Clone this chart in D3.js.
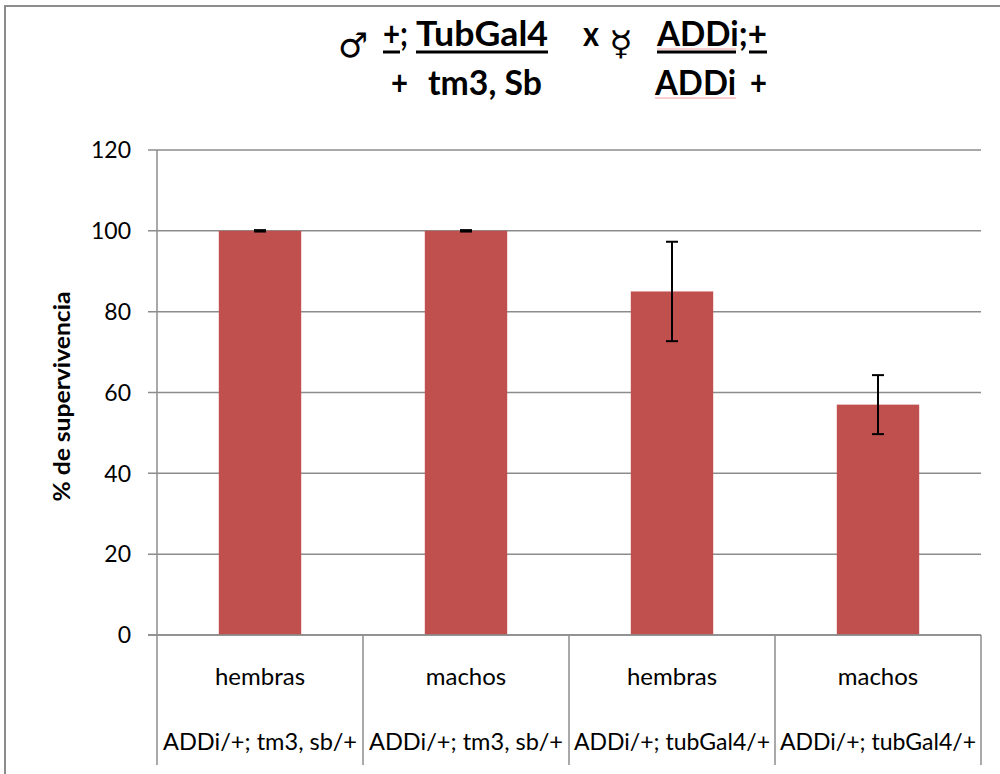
<!DOCTYPE html>
<html>
<head>
<meta charset="utf-8">
<script src="https://cdn.jsdelivr.net/npm/d3@7"></script>
<style>
  body { margin: 0; background: #fff; }
  svg { display: block; font-family: Lato, "Noto Sans", sans-serif; }
</style>
</head>
<body>
<div id="chart"></div>
<script>
const sexes = ['hembras', 'machos', 'hembras', 'machos'];
const genotypes = ['ADDi/+; tm3, sb/+', 'ADDi/+; tm3, sb/+', 'ADDi/+; tubGal4/+', 'ADDi/+; tubGal4/+'];
const survival = [100, 100, 85, 57];
const errors = [0, 0, 12.3, 7.3];
const yTicks = [0, 20, 40, 60, 80, 100, 120];

const width = 1000;
const height = 774;
const margin = { top: 150, right: 19, bottom: 139, left: 157 };
const barColor = '#C0504D';
const gridColor = '#8c8c8c';

const svg = d3.select('#chart').append('svg')
  .attr('width', width)
  .attr('height', height);

// outer frame (only top and left visible)
svg.append('path')
  .attr('d', `M5,${height} L5,6 L${width},6`)
  .attr('fill', 'none')
  .attr('stroke', gridColor)
  .attr('stroke-width', 2);

const x = d3.scaleBand()
  .domain(d3.range(survival.length))
  .range([margin.left, width - margin.right])
  .paddingInner(0)
  .paddingOuter(0);

const y = d3.scaleLinear()
  .domain([0, 120])
  .range([height - margin.bottom, margin.top]);

// gridlines
svg.append('g')
  .selectAll('line')
  .data(yTicks)
  .enter().append('line')
    .attr('x1', margin.left - 9)
    .attr('x2', width - margin.right)
    .attr('y1', d => y(d))
    .attr('y2', d => y(d))
    .attr('stroke', gridColor)
    .attr('stroke-width', 1.5);

// y tick labels
svg.append('g')
  .selectAll('text')
  .data(yTicks)
  .enter().append('text')
    .attr('x', margin.left - 26)
    .attr('y', d => y(d))
    .attr('dy', '0.36em')
    .attr('text-anchor', 'end')
    .attr('font-size', 23)
    .attr('fill', '#000')
    .text(d => d);

// y axis line + category dividers down through the label table
const tableBottom = height - 9;
const dividers = d3.range(survival.length + 1).map(i => i < survival.length ? x(i) : x(survival.length - 1) + x.bandwidth());
svg.append('g')
  .selectAll('line')
  .data(dividers)
  .enter().append('line')
    .attr('x1', d => d)
    .attr('x2', d => d)
    .attr('y1', (d, i) => i === 0 ? margin.top : y(0))
    .attr('y2', tableBottom)
    .attr('stroke', gridColor)
    .attr('stroke-width', 1.5);

// bars
const barW = x.bandwidth() * 0.4;
svg.append('g')
  .selectAll('rect')
  .data(survival)
  .enter().append('rect')
    .attr('x', (d, i) => x(i) + (x.bandwidth() - barW) / 2)
    .attr('y', d => y(d))
    .attr('width', barW)
    .attr('height', d => y(0) - y(d))
    .attr('fill', barColor);

// re-draw baseline over bars
svg.append('line')
  .attr('x1', margin.left - 9)
  .attr('x2', width - margin.right)
  .attr('y1', y(0))
  .attr('y2', y(0))
  .attr('stroke', gridColor)
  .attr('stroke-width', 1.5);

// error bars
const eb = svg.append('g').attr('stroke', '#000').attr('stroke-width', 2);
survival.forEach((v, i) => {
  const cx = x(i) + x.bandwidth() / 2;
  const e = errors[i];
  if (e > 0) {
    eb.append('line').attr('x1', cx).attr('x2', cx).attr('y1', y(v + e)).attr('y2', y(v - e));
  }
  [v + e, v - e].forEach(t => {
    eb.append('line').attr('x1', cx - 6).attr('x2', cx + 6).attr('y1', y(t)).attr('y2', y(t))
      .attr('stroke-width', e > 0 ? 2 : 3);
  });
});

// category labels
svg.append('g')
  .selectAll('text')
  .data(sexes)
  .enter().append('text')
    .attr('x', (d, i) => x(i) + x.bandwidth() / 2)
    .attr('y', 685)
    .attr('text-anchor', 'middle')
    .attr('font-size', 24)
    .text(d => d);

svg.append('g')
  .selectAll('text')
  .data(genotypes)
  .enter().append('text')
    .attr('x', (d, i) => x(i) + x.bandwidth() / 2)
    .attr('y', 750)
    .attr('text-anchor', 'middle')
    .attr('font-size', 23)
    .attr('textLength', (d, i) => i < 2 ? 194 : 196)
    .attr('lengthAdjust', 'spacingAndGlyphs')
    .text(d => d);

// y axis title
svg.append('text')
  .attr('transform', `translate(70, ${y(59)}) rotate(-90)`)
  .attr('text-anchor', 'middle')
  .attr('font-size', 23)
  .attr('font-weight', 'bold')
  .attr('textLength', 210)
  .attr('lengthAdjust', 'spacingAndGlyphs')
  .text('% de supervivencia');

// title: cross notation (underline spans given as [from, to] in px)
const title = svg.append('g');
const titleParts = [
  { t: '\u2642', x: 338, y: 57, w: 30, sym: true },
  { t: '+;', x: 383, y: 46, w: 25, u: [[383, 400]] },
  { t: 'TubGal4', x: 416, y: 46, w: 132, u: [[416, 548]] },
  { t: 'x', x: 583, y: 46, w: 16 },
  { t: '\u263F', x: 609, y: 55, w: 24, sym: true },
  { t: 'ADDi;+', x: 657, y: 46, w: 110, u: [[657, 736], [749, 767]], spell: [657, 736] },
  { t: '+', x: 391, y: 95, w: 17 },
  { t: 'tm3, Sb', x: 428, y: 95, w: 114 },
  { t: 'ADDi', x: 655, y: 95, w: 81, spell: [655, 736] },
  { t: '+', x: 750, y: 95, w: 17 }
];
titleParts.forEach(p => {
  title.append('text')
    .attr('x', p.x)
    .attr('y', p.y)
    .attr('font-size', 34)
    .attr('font-family', p.sym ? '"DejaVu Sans", sans-serif' : null)
    .attr('font-weight', p.sym ? 'normal' : 'bold')
    .attr('textLength', p.w)
    .attr('lengthAdjust', 'spacingAndGlyphs')
    .text(p.t);
  if (p.spell) {
    title.append('line')
      .attr('x1', p.spell[0]).attr('x2', p.spell[1])
      .attr('y1', p.y + 3).attr('y2', p.y + 3)
      .attr('stroke', '#f4a0a0').attr('stroke-width', 1);
  }
  (p.u || []).forEach(s => {
    title.append('line')
      .attr('x1', s[0]).attr('x2', s[1])
      .attr('y1', p.y + 6).attr('y2', p.y + 6)
      .attr('stroke', '#000').attr('stroke-width', 3);
  });
});
</script>
</body>
</html>
